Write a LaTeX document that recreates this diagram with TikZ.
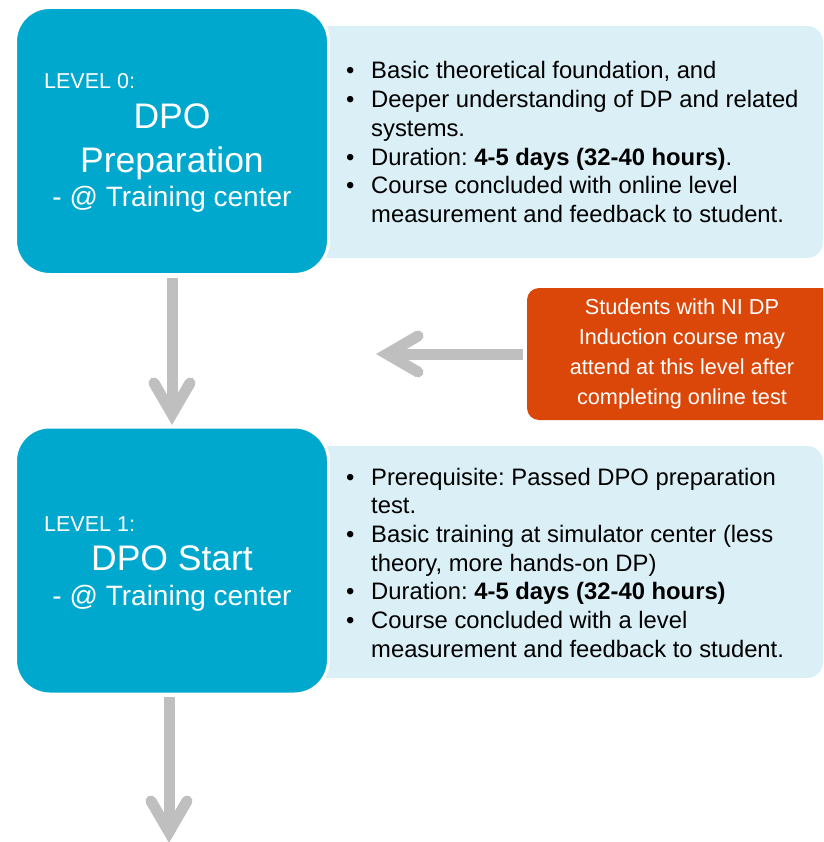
\documentclass[tikz,border=0pt]{standalone}
\usepackage{fontspec}
\setmainfont{Liberation Sans}
\usetikzlibrary{calc}
\definecolor{dpoblue}{RGB}{0,168,206}
\definecolor{dpolight}{RGB}{218,239,246}
\definecolor{dpoorange}{RGB}{218,71,9}
\definecolor{dpogray}{RGB}{191,191,191}
\frenchspacing
\begin{document}
\begin{tikzpicture}[x=1pt,y=1pt,
 levelbox/.style={draw=white, line width=3pt, fill=dpoblue, rounded corners=34pt, minimum width=313pt, minimum height=267pt, inner sep=0pt, outer sep=0pt},
 infobox/.style={fill=dpolight, rounded corners=16pt, minimum width=510pt, minimum height=232pt, inner sep=0pt, outer sep=0pt},
 lvltext/.style={text=white, inner sep=0pt, font=\fontsize{21.5}{26}\selectfont, anchor=base west},
 titletext/.style={text=white, inner sep=0pt, font=\fontsize{35.5}{40}\selectfont, anchor=base},
 wheretext/.style={text=white, inner sep=0pt, font=\fontsize{28}{32}\selectfont, anchor=base},
 bullets/.style={inner sep=0pt, anchor=base west, font=\fontsize{23.8}{28.7}\selectfont},
 notebox/.style={fill=dpoorange, rounded corners=12pt, text=white, align=center, minimum width=310pt, minimum height=132pt, inner sep=0pt, outer sep=0pt, font=\fontsize{21.7}{30}\selectfont},
 conn/.style={draw=dpogray, line width=11pt},
 chev/.style={draw=dpogray, line width=11pt, line cap=round, line join=miter}
]
\useasboundingbox (0,0) rectangle (823,-842);
\path[clip] (0,0) rectangle (823,-842);

% boxes
\node[infobox] (info0) at (568,-142) {};
\node[levelbox] (lvl0) at (172,-141) {};
\node[infobox] (info1) at (568,-562) {};
\node[levelbox] (lvl1) at (172,-560.5) {};
\node[notebox] (note) at (682,-354) {Students with NI DP\\Induction course may\\attend at this level after\\completing online test};

% level 0 texts
\node[lvltext] (l0a) at (44,-89) {LEVEL 0:};
\node[titletext] (l0b) at (172,-129) {DPO};
\node[titletext] (l0c) at (172,-173) {Preparation};
\node[wheretext] (l0d) at (172,-207) {- @ Training center};

% level 1 texts
\node[lvltext] (l1a) at (44,-531.5) {LEVEL 1:};
\node[titletext] (l1b) at (172,-570.5) {DPO Start};
\node[wheretext] (l1d) at (172,-605.5) {- @ Training center};

% bullets
\node[bullets] (b0) at (346,-79) {\begin{tabular}[t]{@{}p{25pt}@{}l@{}}
•&Basic theoretical foundation, and\\
•&Deeper understanding of DP and related\\
&systems.\\
•&Duration: \textbf{4-5 days (32-40 hours)}.\\
•&Course concluded with online level\\
&measurement and feedback to student.\end{tabular}};

\node[bullets] (b1) at (346,-485) {\begin{tabular}[t]{@{}p{25pt}@{}l@{}}
•&Prerequisite: Passed DPO preparation\\
&test.\\
•&Basic training at simulator center (less\\
&theory, more hands-on DP)\\
•&Duration: \textbf{4-5 days (32-40 hours)}\\
•&Course concluded with a level\\
&measurement and feedback to student.\end{tabular}};

% connectors
\coordinate (tip1) at ([yshift=13pt]lvl1.north);
\draw[conn] ([yshift=-3pt]lvl0.south) -- (tip1);
\draw[chev] ($(tip1)+(-18,31)$) -- (tip1) -- ($(tip1)+(18,31)$);

\coordinate (tip2) at (387,-354);
\draw[conn] ([xshift=-4pt]note.west) -- (tip2);
\draw[chev] ($(tip2)+(31,18)$) -- (tip2) -- ($(tip2)+(31,-18)$);

\coordinate (tip3) at (169,-832);
\draw[conn] ([xshift=-3pt,yshift=-3pt]lvl1.south) -- (tip3);
\draw[chev] ($(tip3)+(-18,31)$) -- (tip3) -- ($(tip3)+(18,31)$);
\end{tikzpicture}
\end{document}
